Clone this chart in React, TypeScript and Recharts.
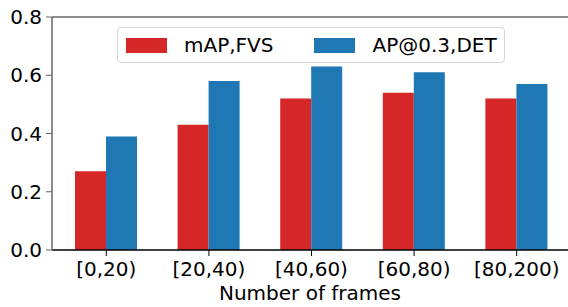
import { BarChart, Bar, XAxis, YAxis, CartesianGrid } from 'recharts';

const categories = ['[0,20)', '[20,40)', '[40,60)', '[60,80)', '[80,200)'];
const mapFvs = [0.27, 0.43, 0.52, 0.54, 0.52];
const apDet = [0.39, 0.58, 0.63, 0.61, 0.57];
const yTicks = [0, 0.2, 0.4, 0.6, 0.8];

const RED = '#d62728';
const BLUE = '#1f77b4';
const FONT = 'DejaVu Sans, sans-serif';
const TICK_STYLE = { fontFamily: FONT, fontSize: 20, fill: '#000' };

const data = categories.map((c, i) => ({ range: c, fvs: mapFvs[i], det: apDet[i] }));

function LegendBox() {
  const item = (color: string, label: string) => (
    <div style={{ display: 'flex', alignItems: 'center' }}>
      <div style={{ width: 41, height: 15, background: color, marginRight: 17 }} />
      <span>{label}</span>
    </div>
  );
  return (
    <div
      style={{
        position: 'absolute',
        left: 117,
        top: 27,
        display: 'flex',
        alignItems: 'center',
        boxSizing: 'border-box',
        width: 388,
        height: 36,
        paddingLeft: 8,
        border: '1px solid #d8d8d8',
        borderRadius: 4,
        background: '#fff',
        fontFamily: FONT,
        fontSize: 20,
        color: '#000',
      }}
    >
      {item(RED, 'mAP,FVS')}
      <div style={{ width: 41 }} />
      {item(BLUE, 'AP@0.3,DET')}
    </div>
  );
}

export default function App() {
  return (
    <div style={{ position: 'fixed', left: 0, top: 0, width: 568, height: 307, background: '#fff' }}>
      <BarChart
        width={568}
        height={307}
        data={data}
        margin={{ top: 17, right: 0, bottom: 0, left: 0 }}
        barGap={0}
        barCategoryGap={20}
      >
        <CartesianGrid
          vertical={false}
          horizontalValues={[0.8]}
          stroke="#666"
          strokeWidth={1.5}
        />
        <XAxis
          dataKey="range"
          height={57}
          padding={{ left: 3, right: 0 }}
          tick={TICK_STYLE}
          tickSize={6}
          tickMargin={6}
          axisLine={{ stroke: '#000', strokeWidth: 1.5 }}
          tickLine={{ stroke: '#000' }}
          label={{
            value: 'Number of frames',
            position: 'insideBottom',
            offset: 7,
            style: { fontFamily: FONT, fontSize: 20, fill: '#000' },
          }}
        />
        <YAxis
          width={52}
          domain={[0, 0.8]}
          ticks={yTicks}
          tickFormatter={(v: number) => v.toFixed(1)}
          tick={TICK_STYLE}
          tickSize={6}
          tickMargin={4}
          axisLine={{ stroke: '#666', strokeWidth: 1.5 }}
          tickLine={{ stroke: '#666' }}
        />
        <Bar dataKey="fvs" name="mAP,FVS" fill={RED} isAnimationActive={false} />
        <Bar dataKey="det" name="AP@0.3,DET" fill={BLUE} isAnimationActive={false} />
      </BarChart>
      <LegendBox />
    </div>
  );
}
